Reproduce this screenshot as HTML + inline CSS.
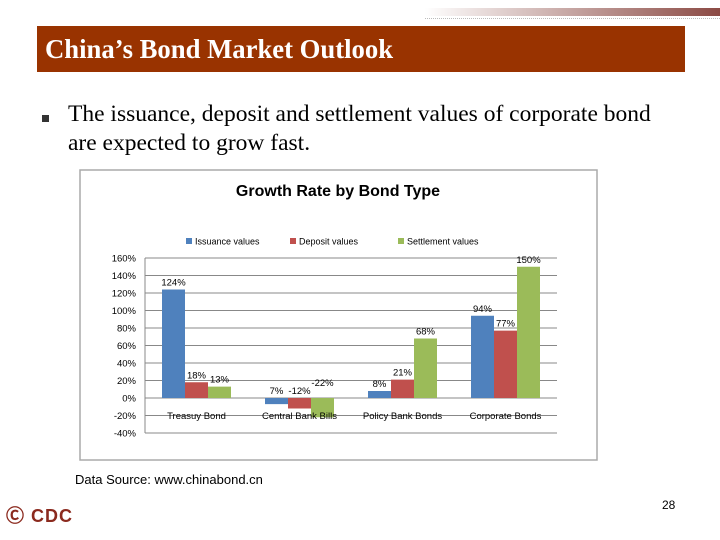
<!DOCTYPE html>
<html><head><meta charset="utf-8"><style>
body{margin:0;width:720px;height:540px;background:#fff;position:relative;overflow:hidden;font-family:"Liberation Serif",serif}
.abs{position:absolute}
</style></head><body>
<div class="abs" style="left:425px;top:8px;width:295px;height:8px;background:linear-gradient(90deg,#fff,#8b4a44)"></div>
<div class="abs" style="left:425px;top:18px;width:295px;border-top:1px dotted #bbb"></div>
<div class="abs" style="left:37px;top:26px;width:648px;height:46px;background:#993300"></div>
<div class="abs" style="left:45px;top:33px;color:#fff;font-weight:bold;font-size:27.5px;line-height:32px;transform:scaleX(0.97);transform-origin:left">China’s Bond Market Outlook</div>
<div class="abs" style="left:42px;top:115px;width:7px;height:7px;background:#333"></div>
<div class="abs" style="left:68px;top:100px;font-size:23.5px;line-height:29px;width:612px;white-space:nowrap">The issuance, deposit and settlement values of corporate bond<br>are expected to grow fast.</div>
<svg class="abs" style="left:0;top:0" width="720" height="540">
<g id="chart"></g>
</svg>
<div class="abs" style="left:75px;top:472px;font-family:'Liberation Sans',sans-serif;font-size:13px">Data Source: www.chinabond.cn</div>
<div class="abs" style="left:662px;top:498px;font-family:'Liberation Sans',sans-serif;font-size:12px">28</div>
<div class="abs" style="left:6px;top:502px;font-family:'Liberation Sans',sans-serif;font-weight:bold;font-size:18px;color:#8b2a1e;letter-spacing:1px">&#x24B8; CDC</div>
<script>
const categories=["Treasuy Bond","Central Bank Bills","Policy Bank Bonds","Corporate Bonds"];
const seriesNames=["Issuance values","Deposit values","Settlement values"];
const issuance=[124,-7,8,94];
const deposit=[18,-12,21,77];
const settlement=[13,-22,68,150];
const labels=[["124%","18%","13%"],["7%","-12%","-22%"],["8%","21%","68%"],["94%","77%","150%"]];
const ticks=[-40,-20,0,20,40,60,80,100,120,140,160];
const colors=["#4f81bd","#c0504d","#9bbb59"];
const NS="http://www.w3.org/2000/svg";
const g=document.getElementById('chart');
const x0=145,x1=557,y0=398,pxPer=140/160;
const Y=v=>y0-v*pxPer;
const bw=(x1-x0)/categories.length;
const X=i=>x0+i*bw;
function mk(t,a,txt){const e=document.createElementNS(NS,t);for(const k in a)e.setAttribute(k,a[k]);if(txt!=null)e.textContent=txt;g.appendChild(e);return e;}
let e=mk('rect',{x:80,y:170,width:517,height:290,fill:'#fff',stroke:'#aaa','stroke-width':1.5});

e=mk('text',{x:338,y:196,'text-anchor':'middle','font-family':'Liberation Sans,sans-serif','font-weight':'bold','font-size':16},'Growth Rate by Bond Type');

const lx=[186,290,398];
seriesNames.forEach((n,s)=>{
 e=mk('rect',{x:lx[s],y:238,width:6,height:6,fill:colors[s]});
 
 e=mk('text',{x:lx[s]+9,y:244.5,'font-family':'Liberation Sans,sans-serif','font-size':9},n);
 
});
ticks.forEach(t=>{
 e=mk('line',{x1:x0,x2:x1,y1:Y(t),y2:Y(t),stroke:'#888','stroke-width':1});
 
 e=mk('text',{x:136,y:Y(t)+3.5,'text-anchor':'end','font-family':'Liberation Sans,sans-serif','font-size':9.5},t+'%');
 
});
e=mk('line',{x1:x0,x2:x0,y1:Y(160),y2:Y(-40),stroke:'#888'});

const series=[issuance,deposit,settlement];
categories.forEach((c,i)=>{
 const gx=X(i)+bw/2-34.5;
 series.forEach((arr,s)=>{
  const v=arr[i];const bx=gx+s*23;
  e=mk('rect',{x:bx,y:Math.min(Y(v),y0),width:23,height:Math.abs(Y(v)-y0),fill:colors[s]});
  
  const ly=v>=0?Y(v)-4:y0-4-(s==2?8:0);
  e=mk('text',{x:bx+11.5,y:ly,'text-anchor':'middle','font-family':'Liberation Sans,sans-serif','font-size':9.5},labels[i][s]);
  
 });
 e=mk('text',{x:X(i)+bw/2,y:y0+21,'text-anchor':'middle','font-family':'Liberation Sans,sans-serif','font-size':9.5},c);
 
});
</script>
</body></html>
